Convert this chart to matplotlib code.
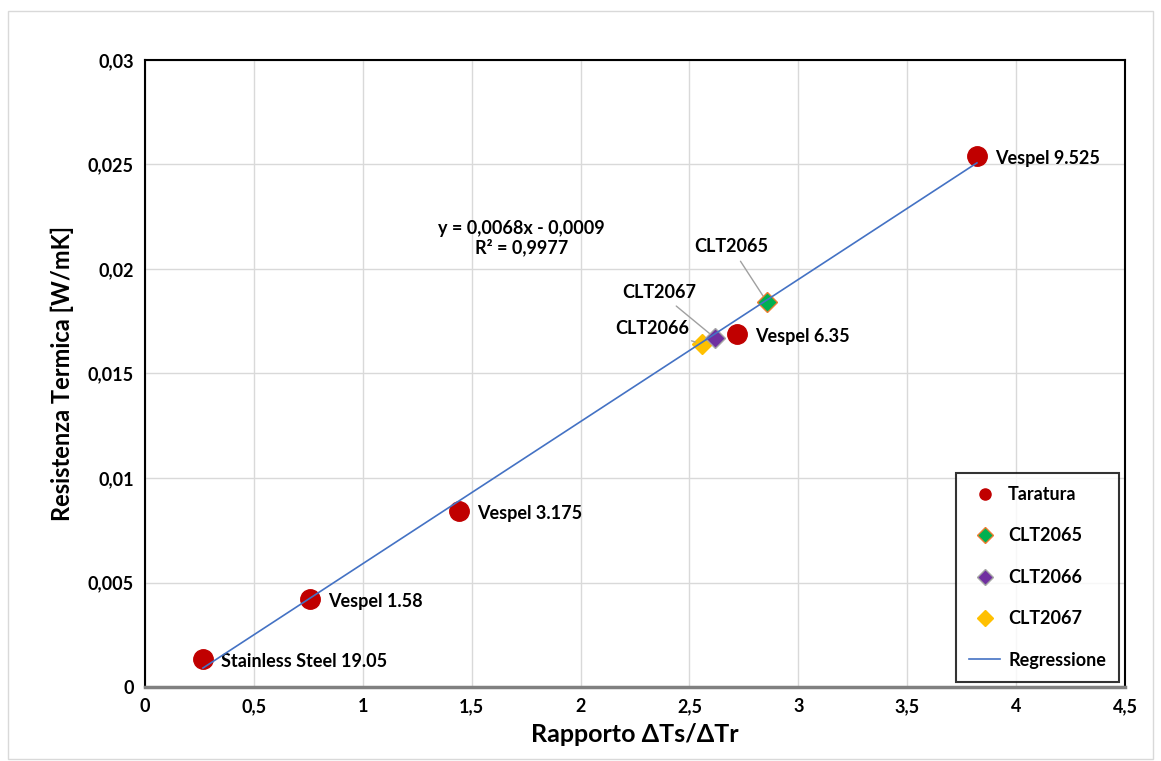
import numpy as np
import matplotlib.pyplot as plt
import matplotlib as mlp

mlp.rcParams['font.family'] = ['Lato', 'DejaVu Sans']
mlp.rcParams['font.weight'] = 'bold'

# taratura data
tar_x = [0.266, 0.758, 1.442, 2.718, 3.82]
tar_y = [0.00134, 0.00421, 0.00842, 0.01689, 0.0254]
tar_names = ['Stainless Steel 19.05', 'Vespel 1.58', 'Vespel 3.175', 'Vespel 6.35', 'Vespel 9.525']

# samples
clt_names = ['CLT2065', 'CLT2066', 'CLT2067']
clt_x = [2.856, 2.617, 2.557]
clt_y = [0.01842, 0.0167, 0.01641]

# regression
slope = 0.0068
intercept = -0.0009
r2 = 0.9977

fig = plt.figure(figsize=(11.61, 7.61), dpi=100)
ax = fig.add_axes([0.1249, 0.0972, 0.8441, 0.824])

xr = np.array([min(tar_x), max(tar_x)])
ax.plot(tar_x, tar_y, 'o', color='#c00000', markersize=14, label='Taratura', zorder=3)
ax.plot(clt_x[0], clt_y[0], 'D', color='#00b050', markeredgecolor='#ed7d31', markersize=10, label='CLT2065', zorder=4)
ax.plot(clt_x[1], clt_y[1], 'D', color='#7030a0', markeredgecolor='#a5a5a5', markersize=10, label='CLT2066', zorder=4)
ax.plot(clt_x[2], clt_y[2], 'D', color='#ffc000', markeredgecolor='#ffc000', markersize=10, label='CLT2067', zorder=3)
ax.plot(xr, slope*xr + intercept, color='#4472c4', lw=1.2, label='Regressione', zorder=5)

for x, y, n in zip(tar_x, tar_y, tar_names):
    ax.annotate(n, (x, y), xytext=(13, -2), textcoords='offset points', fontsize=13,
                fontweight='bold', va='center', ha='left')

# labels with leader lines
ax.annotate(clt_names[0], (clt_x[0], clt_y[0]), xytext=(-26, 40), textcoords='offset points',
            fontsize=13, fontweight='bold', ha='center', va='center',
            arrowprops=dict(arrowstyle='-', color='#a0a0a0', lw=1, shrinkA=3, shrinkB=5))
ax.annotate(clt_names[2], (clt_x[1], clt_y[1]), xytext=(-40, 33), textcoords='offset points',
            fontsize=13, fontweight='bold', ha='center', va='center',
            arrowprops=dict(arrowstyle='-', color='#a0a0a0', lw=1, shrinkA=3, shrinkB=5))
ax.annotate(clt_names[1], (clt_x[2], clt_y[2]), xytext=(-9, 11), textcoords='offset points',
            fontsize=13, fontweight='bold', ha='right', va='center',
            arrowprops=dict(arrowstyle='-', color='#a0a0a0', lw=1, shrinkA=2, shrinkB=5))

ax.text(1.73, 0.02148, 'y = 0,0068x - 0,0009\nR² = 0,9977', ha='center', va='center',
        fontsize=13, fontweight='bold', linespacing=1.1)

ax.set_xlim(0, 4.5)
ax.set_ylim(0, 0.03)
xt = np.arange(0, 4.51, 0.5)
yt = np.arange(0, 0.0301, 0.005)
ax.set_xticks(xt)
ax.set_yticks(yt)
ax.set_xticklabels(['0', '0,5', '1', '1,5', '2', '2,5', '3', '3,5', '4', '4,5'], fontsize=13, fontweight='bold')
ax.set_yticklabels(['0', '0,005', '0,01', '0,015', '0,02', '0,025', '0,03'], fontsize=13, fontweight='bold')
ax.tick_params(length=0, pad=8)
ax.grid(True, color='#d9d9d9', lw=1)
ax.set_axisbelow(True)
for s in ax.spines.values():
    s.set_color('black')
    s.set_linewidth(1.5)
ax.spines['bottom'].set_color('#808080')
ax.spines['bottom'].set_linewidth(2.5)

ax.set_xlabel('Rapporto ΔTs/ΔTr', fontsize=18, fontweight='bold', labelpad=6)
ax.set_ylabel('Resistenza Termica [W/mK]', fontsize=17, fontweight='bold', labelpad=10)

leg = ax.legend(loc='lower right', fontsize=13, frameon=True, fancybox=False, edgecolor='black',
                borderpad=0.75, labelspacing=1.35, handlelength=1.7, handletextpad=0.45,
                markerscale=0.6, borderaxespad=0.2, bbox_to_anchor=(0.998, 0.002))
leg.get_frame().set_linewidth(1.5)
for h in leg.legend_handles[:4]:
    h.set_markersize(8)

fig.patches.append(plt.Rectangle((0.007, 0.003), 0.986, 0.983, transform=fig.transFigure,
                                 fill=False, edgecolor='#d9d9d9', lw=1))
fig.savefig('out.png', dpi=100)
